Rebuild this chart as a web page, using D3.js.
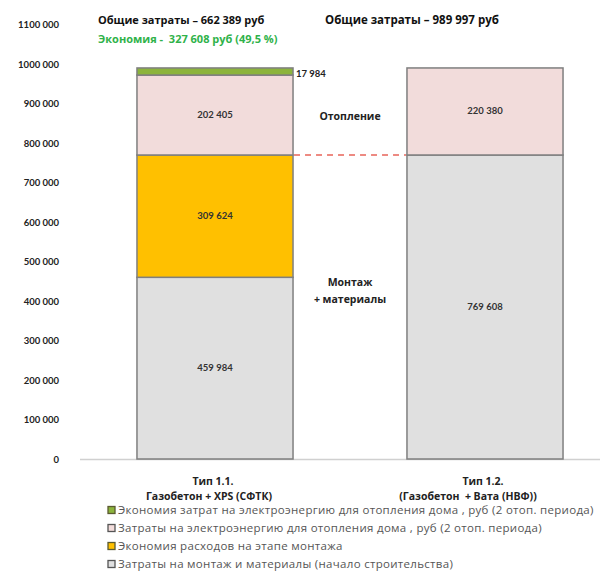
<!DOCTYPE html>
<html><head><meta charset="utf-8">
<script src="https://cdn.jsdelivr.net/npm/d3@7"></script>
<style>body{margin:0;background:#fff}svg{display:block;font-family:"Open Sans",Lato,sans-serif}text{white-space:pre}</style>
</head><body><svg id="c" width="614" height="573"></svg>
<script>
const categories = ["Тип 1.1.", "Тип 1.2."];
const categorySub = ["Газобетон + XPS (СФТК)", "(Газобетон  + Вата (НВФ))"];
const seriesNames = [
  "Затраты на монтаж и материалы (начало строительства)",
  "Экономия расходов на этапе монтажа",
  "Затраты на электроэнергию для отопления дома , руб (2 отоп. периода)",
  "Экономия затрат на электроэнергию для отопления дома , руб (2 отоп. периода)"
];
const mountCost = [459984, 769608];
const mountSaving = [309624, 0];
const heatCost = [202405, 220380];
const heatSaving = [17984, 0];
const yTicks = [0,100000,200000,300000,400000,500000,600000,700000,800000,900000,1000000,1100000];
const totals = ["Общие затраты – 662 389 руб", "Общие затраты – 989 997 руб"];
const savingText = "Экономия -  327 608 руб (49,5 %)";
const colors = ["#e0e0e0", "#ffc000", "#f2dcdb", "#8cb43c"];

const svg = d3.select("#c");
const x = d3.scaleBand().domain(categories).range([80, 620]).paddingInner(0.422).paddingOuter(0.211);
const y = d3.scaleLinear().domain([0, 1100000]).range([459, 24.5]);
const fmt = v => { const s = String(v); return s.length > 3 ? s.slice(0, -3) + " " + s.slice(-3) : s; };
const fmtS = v => d3.format(",")(v).replace(/,/g, " ");

const seriesArr = [mountCost, mountSaving, heatCost, heatSaving];
const rows = categories.map((c, i) => {
  const o = {cat: c};
  seriesArr.forEach((s, k) => o["s" + k] = s[i]);
  return o;
});
const stack = d3.stack().keys(["s0","s1","s2","s3"])(rows);

// baseline
svg.append("line").attr("x1", 80).attr("x2", 600).attr("y1", y(0)+0.5).attr("y2", y(0)+0.5)
  .attr("stroke", "#d0d0d0").attr("stroke-width", 1.5);

// y axis labels
const yAxis = d3.axisLeft(y).tickValues(yTicks).tickSize(0).tickPadding(0).tickFormat(fmt);
const ga = svg.append("g").attr("transform", "translate(59,0)").call(yAxis);
ga.select(".domain").remove();
ga.selectAll("text").attr("font-size", 9.5).attr("font-weight", "bold").attr("fill", "#222")
  .attr("font-family", "Lato, sans-serif").attr("dy", "0.35em");

// bars
stack.forEach((layer, k) => {
  svg.append("g").selectAll("rect").data(layer.filter(d => d[1] > d[0])).join("rect")
    .attr("x", d => x(d.data.cat)).attr("width", x.bandwidth())
    .attr("y", d => y(d[1])).attr("height", d => y(d[0]) - y(d[1]))
    .attr("fill", colors[k]).attr("stroke", "#7f7f7f").attr("stroke-width", 1.5);
});

// segment labels
const lbl = [];
stack.forEach((layer, k) => layer.forEach(d => {
  if (d[1] > d[0] && k !== 3) lbl.push({cx: x(d.data.cat) + x.bandwidth()/2, cy: (y(d[0]) + y(d[1]))/2, v: d[1]-d[0]});
}));
svg.append("g").selectAll("text").data(lbl).join("text")
  .attr("x", d => d.cx).attr("y", d => d.cy + 3).attr("text-anchor", "middle")
  .attr("font-size", 9.5).attr("font-weight", "bold").attr("fill", "#333").attr("font-family", "Lato, sans-serif")
  .text(d => fmtS(d.v));

// 17 984 label
svg.append("text").attr("x", x(categories[0]) + x.bandwidth() + 3)
  .attr("y", y(stack[3][0][1]) + 9).attr("font-size", 9.5).attr("font-weight", "bold").attr("fill", "#222")
  .attr("font-family", "Lato, sans-serif").text(fmtS(heatSaving[0]));

// dashed line
const yd = y(mountCost[0] + mountSaving[0]);
svg.append("line").attr("x1", x(categories[0]) + x.bandwidth() + 1).attr("x2", x(categories[1]) - 1)
  .attr("y1", yd).attr("y2", yd).attr("stroke", "#e8645a").attr("stroke-width", 1.5).attr("stroke-dasharray", "6,5");

// middle annotations
const midX = (x(categories[0]) + x.bandwidth() + x(categories[1])) / 2;
[["Отопление", 120], ["Монтаж", 286], ["+ материалы", 303]].forEach(([t, yy]) => {
  svg.append("text").attr("x", midX).attr("y", yy).attr("text-anchor", "middle")
    .attr("font-size", 10.5).attr("font-weight", "bold").attr("fill", "#222").text(t);
});

// titles
svg.append("text").attr("x", 98).attr("y", 24).attr("font-size", 11).attr("font-weight", "bold").attr("fill", "#111").text(totals[0]);
svg.append("text").attr("x", 98).attr("y", 43).attr("font-size", 11).attr("font-weight", "bold").attr("fill", "#2fb24a").text(savingText);
svg.append("text").attr("x", 325).attr("y", 24).attr("font-size", 11.5).attr("font-weight", "bold").attr("fill", "#111").text(totals[1]);

// category labels
const subOffset = [-6, -17];
categories.forEach((c, i) => {
  const cx = x(c) + x.bandwidth()/2;
  svg.append("text").attr("x", cx - 2).attr("y", 485).attr("text-anchor", "middle")
    .attr("font-size", 10.5).attr("font-weight", "bold").attr("fill", "#222").text(c);
  svg.append("text").attr("x", cx + subOffset[i]).attr("y", 500).attr("text-anchor", "middle")
    .attr("font-size", 10.5).attr("font-weight", "bold").attr("fill", "#222").text(categorySub[i]);
});

// legend (reverse order)
const legOrder = [3, 2, 1, 0];
const lg = svg.append("g");
legOrder.forEach((k, j) => {
  const yy = 510 + j * 18;
  lg.append("rect").attr("x", 108).attr("y", yy - 3.5).attr("width", 7).attr("height", 7)
    .attr("fill", colors[k]).attr("stroke", k === 0 || k === 2 ? "#555" : "#5a5a30").attr("stroke-width", 1.3);
  lg.append("text").attr("x", 118).attr("y", yy + 4).attr("font-size", 11.5).attr("letter-spacing", 0.3)
    .attr("fill", "#555").text(seriesNames[k]);
});
</script></body></html>
